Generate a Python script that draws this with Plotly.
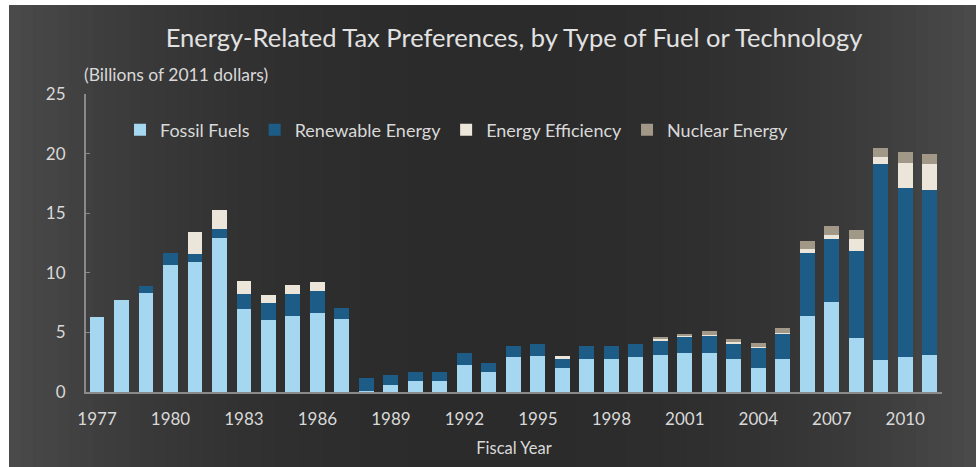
import plotly.graph_objects as go

# Fiscal years and tax preferences (billions of 2011 dollars)
years = list(range(1977, 2012))

fossil_fuels = [6.3, 7.7, 8.3, 10.65, 10.9, 12.9, 7.0, 6.0, 6.4, 6.6, 6.15,
                0.1, 0.6, 0.95, 0.95, 2.25, 1.65, 2.9, 3.0, 2.0, 2.8, 2.8, 2.9,
                3.1, 3.3, 3.3, 2.8, 2.0, 2.8, 6.4, 7.58, 4.5, 2.68, 2.96, 3.1]

renewable_energy = [0.0, 0.0, 0.6, 1.05, 0.7, 0.8, 1.25, 1.5, 1.85, 1.9, 0.9,
                    1.1, 0.83, 0.75, 0.75, 1.0, 0.8, 1.0, 1.0, 0.8, 1.05, 1.05, 1.1,
                    1.25, 1.34, 1.4, 1.28, 1.7, 2.07, 5.3, 5.28, 7.36, 16.42, 14.18, 13.85]

energy_efficiency = [0.0, 0.0, 0.0, 0.0, 1.8, 1.6, 1.05, 0.6, 0.7, 0.7, 0.0,
                     0.0, 0.0, 0.0, 0.0, 0.0, 0.0, 0.0, 0.0, 0.25, 0.0, 0.0, 0.0,
                     0.15, 0.06, 0.1, 0.1, 0.08, 0.1, 0.27, 0.28, 0.94, 0.64, 2.1, 2.15]

nuclear_energy = [0.0, 0.0, 0.0, 0.0, 0.0, 0.0, 0.0, 0.0, 0.0, 0.0, 0.0,
                  0.0, 0.0, 0.0, 0.0, 0.0, 0.0, 0.0, 0.0, 0.0, 0.0, 0.0, 0.0,
                  0.1, 0.1, 0.3, 0.29, 0.3, 0.4, 0.7, 0.79, 0.8, 0.76, 0.89, 0.9]

series_names = ["Fossil Fuels", "Renewable Energy", "Energy Efficiency", "Nuclear Energy"]
series_colors = ["#a5d7f1", "#1e5c88", "#ece5d9", "#a19888"]

y_ticks = [0, 5, 10, 15, 20, 25]
x_ticks = list(range(1977, 2011, 3))

W, H = 976, 467
L, R, T, B = 86, 34, 94, 75
plot_w = W - L - R
plot_h = H - T - B

fig = go.Figure()
for name, vals, col in zip(series_names,
                           [fossil_fuels, renewable_energy, energy_efficiency, nuclear_energy],
                           series_colors):
    fig.add_trace(go.Bar(x=years, y=vals, name=name, marker=dict(color=col, line=dict(width=0))))


def px_to_paper_x(px):
    return (px - L) / plot_w


def px_to_paper_y(py):
    return (H - B - py) / plot_h


# dark panel with a horizontal shading that lightens toward the edges
shapes = []
x0_px, x1_px, y0_px, y1_px = 9, 976, 5, 467
n_strips = 80
centre = 490.0
for i in range(n_strips):
    a = x0_px + (x1_px - x0_px) * i / n_strips
    b = x0_px + (x1_px - x0_px) * (i + 1) / n_strips
    mid = (a + b) / 2
    d = abs(mid - centre) / (centre - x0_px if mid < centre else x1_px - centre)
    g = int(round(43 + 32 * d ** 2.4))
    shapes.append(dict(type="rect", xref="paper", yref="paper", layer="below",
                       x0=px_to_paper_x(a), x1=px_to_paper_x(b) + 0.001,
                       y0=px_to_paper_y(y1_px), y1=px_to_paper_y(y0_px),
                       fillcolor=f"rgb({g},{g},{g})", line=dict(width=0)))

font_family = "Lato, 'Open Sans', sans-serif"
text_col = "#d9d9d9"

fig.update_layout(
    width=W, height=H,
    margin=dict(l=L, r=R, t=T, b=B, pad=0),
    paper_bgcolor="white",
    plot_bgcolor="rgba(0,0,0,0)",
    barmode="stack",
    bargap=0.39,
    shapes=shapes,
    font=dict(family=font_family, color=text_col, size=17),
    title=dict(text="Energy-Related Tax Preferences, by Type of Fuel or Technology",
               xref="paper", x=0.5, xanchor="center", y=1 - 38 / H, yanchor="middle",
               font=dict(size=25.5, color="#e2e2e2", family=font_family)),
    legend=dict(orientation="h", x=px_to_paper_x(120), y=px_to_paper_y(130),
                xanchor="left", yanchor="middle", bgcolor="rgba(0,0,0,0)",
                font=dict(size=18, color=text_col), itemwidth=30,
                traceorder="normal"),
    annotations=[dict(text="(Billions of 2011 dollars)", xref="paper", yref="paper",
                      x=px_to_paper_x(82), y=px_to_paper_y(75), xanchor="left",
                      yanchor="middle", showarrow=False,
                      font=dict(size=17.5, color=text_col))],
    xaxis=dict(range=[1976.55, 2011.5], tickvals=x_ticks, ticks="",
               showgrid=False, zeroline=False, showline=True, linecolor="#8a8a8a",
               linewidth=2, ticklabelstandoff=11, tickfont=dict(size=17),
               title=dict(text="Fiscal Year", font=dict(size=16.5, color=text_col),
                          standoff=14)),
    yaxis=dict(range=[0, 25], tickvals=y_ticks, ticks="inside", ticklen=4,
               tickcolor="#8a8a8a", showgrid=False, zeroline=False, showline=True,
               linecolor="#8a8a8a", linewidth=2, ticklabelstandoff=15,
               tickfont=dict(size=17)),
)

fig.write_html("out.html")
